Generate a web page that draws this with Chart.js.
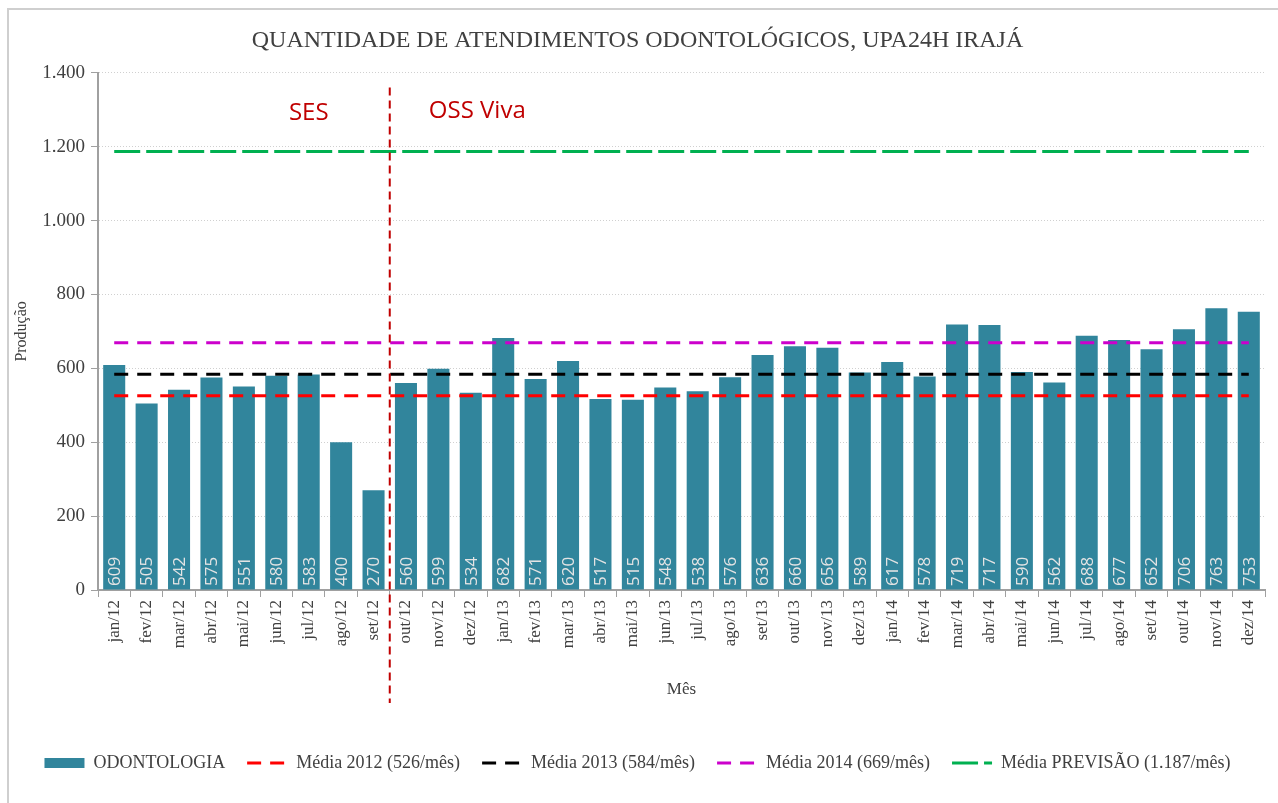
<!DOCTYPE html>
<html>
<head>
<meta charset="utf-8">
<script src="https://cdn.jsdelivr.net/npm/chart.js"></script>
<style>
  body { margin: 0; background: #fff; overflow: hidden; }
  #wrap { position: relative; width: 1278px; height: 803px; }
  #moldura { position: absolute; left: 7px; top: 8px; width: 1300px; height: 820px; border: 2px solid #cfcfcf; box-sizing: border-box; }
  #chart1 { position: absolute; left: 0; top: 0; }
</style>
</head>
<body>
<div id="wrap">
  <div id="moldura"></div>
  <canvas id="chart1" width="1278" height="803"></canvas>
</div>
<script>
const meses = ['jan/12','fev/12','mar/12','abr/12','mai/12','jun/12','jul/12','ago/12','set/12','out/12','nov/12','dez/12',
  'jan/13','fev/13','mar/13','abr/13','mai/13','jun/13','jul/13','ago/13','set/13','out/13','nov/13','dez/13',
  'jan/14','fev/14','mar/14','abr/14','mai/14','jun/14','jul/14','ago/14','set/14','out/14','nov/14','dez/14'];
const odontologia = [609,505,542,575,551,580,583,400,270,560,599,534,
  682,571,620,517,515,548,538,576,636,660,656,589,
  617,578,719,717,590,562,688,677,652,706,763,753];
const media2012 = 526;
const media2013 = 584;
const media2014 = 669;
const mediaPrevisao = 1187;
const yTicks = [0, 200, 400, 600, 800, 1000, 1200, 1400];
// divisao SES / OSS Viva (entre set/12 e out/12)
const divisao = 8.5;
const marcos = [
  { texto: 'SES', indice: 6, valor: 1292 },
  { texto: 'OSS Viva', indice: 11.2, valor: 1295 }
];

const serif = '"Liberation Serif", "Times New Roman", serif';
const sans = '"Open Sans", "Noto Sans", sans-serif';

function fmt(v) {
  return String(v).replace(/\B(?=(\d{3})+(?!\d))/g, '.');
}

function pixelX(scale, idx) {
  const a = Math.floor(idx), b = Math.ceil(idx);
  const pa = scale.getPixelForValue(a), pb = scale.getPixelForValue(b);
  return pa + (pb - pa) * (idx - a);
}

const extras = {
  id: 'extras',
  afterDatasetsDraw(chart) {
    const ctx = chart.ctx;
    const x = chart.scales.x, y = chart.scales.y;
    // rotulos dentro das barras
    const meta = chart.getDatasetMeta(0);
    ctx.save();
    ctx.font = '17px ' + sans;
    ctx.fillStyle = '#e4e4e4';
    ctx.textAlign = 'left';
    ctx.textBaseline = 'middle';
    meta.data.forEach((bar, i) => {
      ctx.save();
      ctx.translate(bar.x, y.getPixelForValue(0) - 4);
      ctx.rotate(-Math.PI / 2);
      ctx.fillText(String(odontologia[i]), 0, 1);
      ctx.restore();
    });
    ctx.restore();

    // linha vertical
    const xd = pixelX(x, divisao);
    ctx.save();
    ctx.strokeStyle = '#C00000';
    ctx.lineWidth = 2;
    ctx.setLineDash([8, 5]);
    ctx.beginPath();
    ctx.moveTo(xd, y.getPixelForValue(1360));
    ctx.lineTo(xd, y.bottom + 113);
    ctx.stroke();
    ctx.restore();

    ctx.save();
    ctx.font = '24px ' + sans;
    ctx.fillStyle = '#C00000';
    ctx.textAlign = 'center';
    ctx.textBaseline = 'middle';
    marcos.forEach(m => {
      ctx.fillText(m.texto, pixelX(x, m.indice), y.getPixelForValue(m.valor));
    });
    ctx.restore();
  }
};

function linha(label, valor, cor, dash) {
  return {
    type: 'line',
    label: label,
    data: meses.map(() => valor),
    borderColor: cor,
    backgroundColor: cor,
    borderWidth: 3,
    borderDash: dash,
    pointRadius: 0,
    fill: false,
    order: 0
  };
}

const chart1 = new Chart(document.getElementById('chart1'), {
  type: 'bar',
  data: {
    labels: meses,
    datasets: [
      {
        label: 'ODONTOLOGIA',
        data: odontologia,
        backgroundColor: '#31859C',
        borderWidth: 0,
        barPercentage: 0.68,
        categoryPercentage: 1,
        order: 1
      },
      linha('Média 2012 (526/mês)', media2012, '#FF0000', [14, 9]),
      linha('Média 2013 (584/mês)', media2013, '#000000', [14, 9]),
      linha('Média 2014 (669/mês)', media2014, '#CC00CC', [14, 9]),
      linha('Média PREVISÃO (1.187/mês)', mediaPrevisao, '#00B050', [26, 6])
    ]
  },
  options: {
    responsive: false,
    animation: false,
    layout: { padding: { left: 10, right: 13, top: 26, bottom: 21 } },
    plugins: {
      title: {
        display: true,
        text: 'QUANTIDADE DE ATENDIMENTOS ODONTOLÓGICOS, UPA24H IRAJÁ',
        color: '#404040',
        font: { family: serif, size: 24, weight: 'normal' },
        padding: { top: 0, bottom: 18 }
      },
      legend: {
        position: 'bottom',
        labels: {
          color: '#404040',
          font: { family: serif, size: 18 },
          usePointStyle: true,
          pointStyleWidth: 40,
          boxHeight: 10,
          padding: 22,
          generateLabels(chart) {
            const items = Chart.defaults.plugins.legend.labels.generateLabels(chart);
            items.sort((a, b) => a.datasetIndex - b.datasetIndex);
            items.forEach(it => {
              const ds = chart.data.datasets[it.datasetIndex];
              if (ds.type === 'line') {
                it.pointStyle = 'line';
                it.lineDash = ds.borderDash;
                it.lineWidth = 3;
                it.strokeStyle = ds.borderColor;
              } else {
                it.pointStyle = 'rect';
                it.fillStyle = ds.backgroundColor;
                it.strokeStyle = ds.backgroundColor;
                it.lineWidth = 0;
              }
            });
            return items;
          }
        }
      },
      tooltip: { enabled: false }
    },
    scales: {
      x: {
        offset: true,
        grid: { display: true, drawOnChartArea: false, drawTicks: true, offset: true, tickLength: 7, tickColor: '#a0a0a0' },
        border: { color: '#a0a0a0', width: 2 },
        ticks: { color: '#404040', font: { family: serif, size: 17 }, minRotation: 90, maxRotation: 90, padding: 3, autoSkip: false },
        title: { display: true, text: 'Mês', color: '#404040', font: { family: serif, size: 17 }, padding: { top: 0, bottom: 32 } },
        afterFit(s) { s.height = 142; }
      },
      y: {
        min: 0,
        max: 1400,
        afterBuildTicks(s) { s.ticks = yTicks.map(v => ({ value: v })); },
        grid: { color: '#d0d0d0', tickColor: '#a0a0a0', tickLength: 7 },
        border: { color: '#a0a0a0', width: 2, dash: [1, 2] },
        ticks: { color: '#404040', font: { family: serif, size: 19 }, padding: 6, callback: v => fmt(v) },
        title: { display: true, text: 'Produção', color: '#404040', font: { family: serif, size: 16 }, padding: { top: 2, bottom: 0 } },
        afterFit(s) { s.width = 88; }
      }
    }
  },
  plugins: [extras]
});
</script>
</body>
</html>
